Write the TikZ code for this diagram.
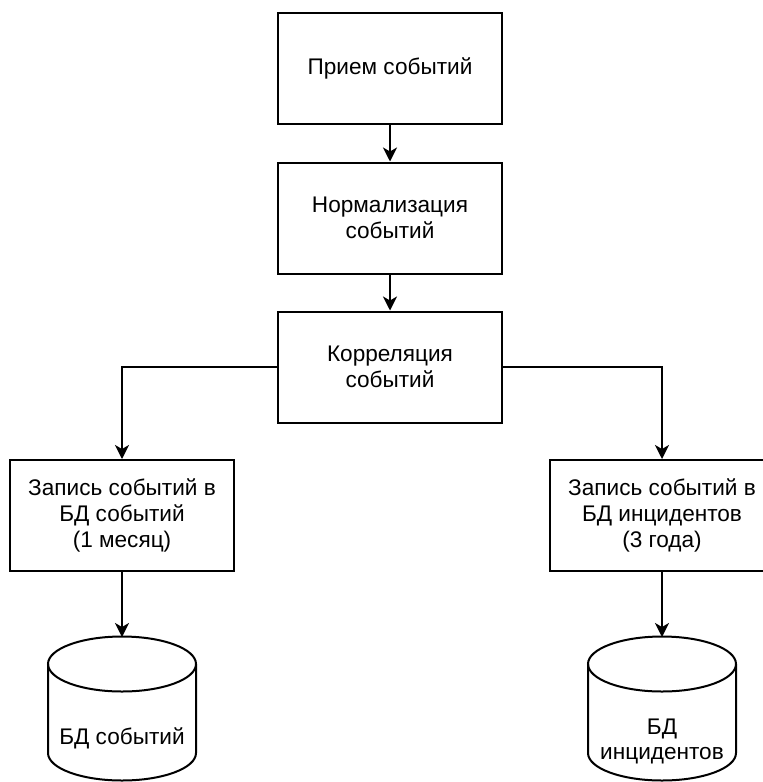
\documentclass[tikz,border=0pt]{standalone}
\usepackage{fontspec}
\setmainfont{Liberation Sans}
\usetikzlibrary{arrows.meta}
\begin{document}
\begin{tikzpicture}[x=0.5pt,y=-0.5pt,
  box/.style={draw, line width=1pt, minimum width=112pt, minimum height=55.5pt,
    align=center, font=\fontsize{11.3}{13.2}\selectfont, inner sep=0pt},
  lbl/.style={align=center, font=\fontsize{11.3}{12.5}\selectfont, inner sep=0pt},
  conn/.style={line width=1pt, -{Stealth[length=7pt,width=7pt,inset=2pt]}},
  cyl/.style={line width=1pt}]
\useasboundingbox (0,0) rectangle (762,782);
\node[box] (b1) at (390,68.5) {Прием событий};
\node[box] (b2) at (390,218) {Нормализация\\событий};
\node[box] (b3) at (390,367) {Корреляция\\событий};
\node[box] (L) at (122,515.5) {Запись событий в\\БД событий\\(1 месяц)};
\node[box] (R) at (662,515.5) {Запись событий в\\БД инцидентов\\(3 года)};
% cylinders
\coordinate (cLtop) at (122,637);
\coordinate (cRtop) at (662,637);
\draw[cyl] (122,664) ellipse [x radius=37pt, y radius=13.75pt];
\draw[cyl] (48,664) -- (48,753) arc[start angle=180,end angle=360,x radius=37pt,y radius=13.75pt] -- (196,664);
\draw[cyl] (662,664) ellipse [x radius=37pt, y radius=13.75pt];
\draw[cyl] (588,664) -- (588,753) arc[start angle=180,end angle=360,x radius=37pt,y radius=13.75pt] -- (736,664);
\node[lbl] (dbL) at (122,738) {БД событий};
\node[lbl] (dbR) at (662,741) {БД\\инцидентов};
% connectors
\draw[conn] (b1) -- (b2);
\draw[conn] (b2) -- (b3);
\draw[conn] (b3.west) -| (L.north);
\draw[conn] (b3.east) -| (R.north);
\draw[conn] (L.south) -- (cLtop);
\draw[conn] (R.south) -- (cRtop);
\end{tikzpicture}
\end{document}
